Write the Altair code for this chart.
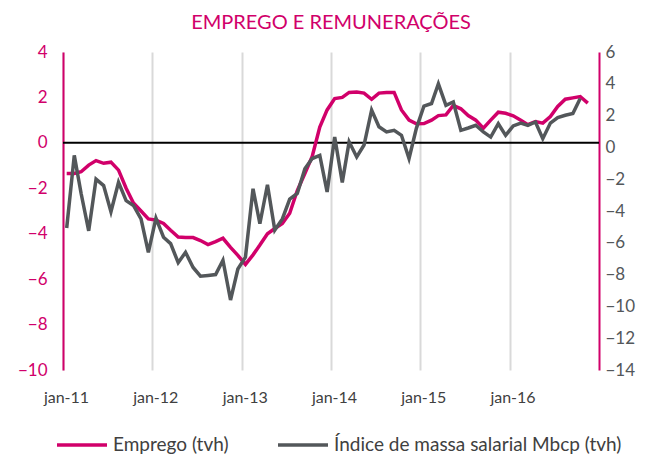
import altair as alt
import pandas as pd

years = [2011, 2012, 2013, 2014, 2015, 2016]
months = [f"{y}-{m:02d}-01" for y in years for m in range(1, 13)]

emprego = [-1.35, -1.35, -1.27, -0.98, -0.78, -0.9, -0.85, -1.2, -2.0, -2.65, -3.0, -3.35,
           -3.4, -3.55, -3.85, -4.15, -4.17, -4.17, -4.3, -4.48, -4.35, -4.2, -4.6, -4.95,
           -5.35, -4.93, -4.5, -4.0, -3.77, -3.55, -3.1, -2.1, -1.35, -0.6, 0.7, 1.45,
           1.95, 2.0, 2.22, 2.24, 2.19, 1.92, 2.19, 2.22, 2.22, 1.45, 1.0, 0.84,
           0.85, 1.0, 1.2, 1.23, 1.65, 1.5, 1.2, 1.0, 0.65, 1.0, 1.35, 1.3,
           1.19, 1.0, 0.8, 0.94, 0.87, 1.16, 1.6, 1.92, 1.98, 2.04, 1.75]

massa = [-5.07, -0.5, -2.9, -5.25, -2.0, -2.4, -4.05, -2.2, -3.35, -3.65, -4.5, -6.6,
         -4.45, -5.65, -6.05, -7.25, -6.6, -7.55, -8.1, -8.05, -8.0, -7.1, -9.6, -7.65,
         -6.9, -2.6, -4.8, -2.35, -5.2, -4.5, -3.25, -2.9, -1.35, -0.7, -0.5, -2.8,
         0.65, -2.2, 0.35, -0.6, 0.15, 2.35, 1.3, 0.97, 1.07, 0.76, -0.7, 1.2,
         2.6, 2.76, 4.0, 2.65, 2.86, 1.07, 1.22, 1.39, 0.97, 0.65, 1.49, 0.76,
         1.35, 1.53, 1.39, 1.6, 0.55, 1.53, 1.87, 2.02, 2.13, 3.07]

series_names = ["Emprego (tvh)", "Índice de massa salarial Mbcp (tvh)"]
series_colors = ["#D1006A", "#53575A"]

left_ticks = [-10, -8, -6, -4, -2, 0, 2, 4]
right_ticks = [-14, -12, -10, -8, -6, -4, -2, 0, 2, 4, 6]
x_ticks = ["2011-01-01", "2012-01-01", "2013-01-01", "2014-01-01", "2015-01-01", "2016-01-01"]

FONT = "Lato"
PINK = series_colors[0]

df_emp = pd.DataFrame({"date": months[:len(emprego)], "v": emprego, "series": series_names[0]})
df_mas = pd.DataFrame({"date": months[:len(massa)], "v": massa, "series": series_names[1]})
df_zero = pd.DataFrame({"v": [0]})

x_scale = alt.Scale(domain=["2011-01-01", "2017-01-01"])
x_enc = alt.X(
    "date:T",
    scale=x_scale,
    axis=alt.Axis(
        values=x_ticks,
        labelExpr="lower(timeFormat(datum.value, '%b-%y'))",
        grid=True, gridColor="#D9D9D9", gridWidth=2,
        domain=False, ticks=False, labelFlush=False,
        labelFont=FONT, labelFontSize=16, labelColor="#404040",
        labelPadding=19, labelOffset=3, title=None,
    ),
)

left_axis = alt.Axis(
    values=left_ticks, orient="left", grid=False,
    domainColor=PINK, domainWidth=2, ticks=False,
    labelFont=FONT, labelFontSize=17, labelColor=PINK,
    labelPadding=16, title=None,
)
left_scale = alt.Scale(domain=[-10, 4], nice=False)

color_enc = alt.Color("series:N", scale=alt.Scale(domain=series_names, range=series_colors),
                      legend=alt.Legend(title=None))

zero = alt.Chart(df_zero).mark_rule(color="black", strokeWidth=2).encode(
    y=alt.Y("v:Q", scale=left_scale, axis=left_axis)
)

pink = alt.Chart(df_emp).mark_line(strokeWidth=3.5, xOffset=3.7).encode(
    x=x_enc,
    y=alt.Y("v:Q", scale=left_scale, axis=left_axis),
    color=color_enc,
)

gray = alt.Chart(df_mas).mark_line(strokeWidth=3.5, xOffset=3.7).encode(
    x=x_enc,
    y=alt.Y(
        "v:Q",
        scale=alt.Scale(domain=[-14, 6], nice=False),
        axis=alt.Axis(
            values=right_ticks, orient="right", grid=False,
            domainColor=PINK, domainWidth=2, ticks=False,
            labelFont=FONT, labelFontSize=17, labelColor="#53575A",
            labelPadding=6, title=None,
        ),
    ),
    color=color_enc,
)

left = alt.layer(zero, pink)

chart = (
    alt.layer(left, gray)
    .resolve_scale(y="independent")
    .properties(
        width=536,
        height=318,
        autosize=alt.AutoSizeParams(type="none"),
        padding={"left": 55, "top": 44, "right": 51, "bottom": 86},
        title=alt.Title(
            "EMPREGO E REMUNERAÇÕES",
            font=FONT, fontSize=20, fontWeight="normal", color=PINK,
            anchor="middle", offset=10,
        ),
    )
    .configure_view(stroke=None)
    .configure_legend(
        orient="none",
        legendX=-8,
        legendY=366,
        direction="horizontal",
        symbolType="stroke",
        symbolSize=2500,
        symbolStrokeWidth=3.5,
        labelFont=FONT,
        labelFontSize=19,
        labelColor="#404040",
        labelOffset=4,
        columnPadding=42,
        labelLimit=400,
    )
)

chart.save("out.html", embed_options={"renderer": "svg", "actions": False})
